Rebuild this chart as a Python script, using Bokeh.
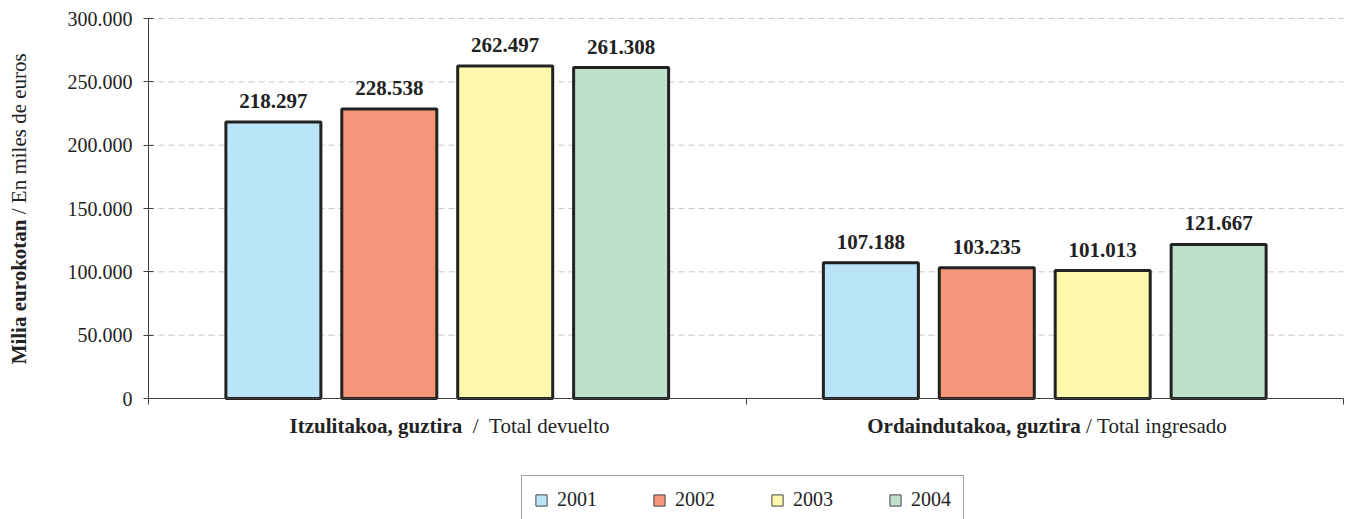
import math
from bokeh.plotting import figure
from bokeh.models import (ColumnDataSource, Label, LabelSet, Legend, LegendItem,
                          FixedTicker, Range1d)
from bokeh.embed import file_html
from bokeh.resources import INLINE

# ---- data ----
categories_eu = ["Itzulitakoa, guztira", "Ordaindutakoa, guztira"]
categories_es = ["\u00a0\u00a0/\u00a0\u00a0Total devuelto", "\u00a0/\u00a0Total ingresado"]
years = ["2001", "2002", "2003", "2004"]
v2001 = [218297, 107188]
v2002 = [228538, 103235]
v2003 = [262497, 101013]
v2004 = [261308, 121667]
series = [v2001, v2002, v2003, v2004]
colors = ["#bae5f8", "#f4967a", "#fff8ad", "#bfe1cb"]
y_ticks = [0, 50000, 100000, 150000, 200000, 250000, 300000]

FONT = "Liberation Serif"
TXT = "#222222"

# ---- layout (pixels) ----
W, H = 1345, 519
left_px, right_px = 148, 1343      # plot area horizontal extent
top_px, zero_px = 18, 398          # y=300000 and y=0 positions
y_max = y_ticks[-1]
ncat = len(categories_eu)
unit_x = (right_px - left_px) / ncat
unit_y = (zero_px - top_px) / y_max
x_start = -left_px / unit_x
x_end = ncat + (W - right_px) / unit_x
y_end = y_max + top_px / unit_y
y_start = -(H - zero_px) / unit_y


def fmt(v):
    return f"{v:,}".replace(",", ".")


p = figure(width=W, height=H, output_backend="svg", toolbar_location=None,
           x_range=Range1d(x_start, x_end), y_range=Range1d(y_start, y_end),
           min_border_left=0, min_border_right=0, min_border_top=0,
           min_border_bottom=0)
p.outline_line_color = None
p.background_fill_color = "white"
p.border_fill_color = "white"
p.xgrid.visible = False
p.ygrid.visible = False

# dashed horizontal grid lines across the plot area
gy = y_ticks[1:]
p.segment(x0=[0] * len(gy), x1=[ncat] * len(gy), y0=gy, y1=gy,
          line_color="#c8c8c8", line_dash="6 4", line_width=1)

step = 0.194
bw = 0.159
legend_items = []
for k, (yr, vals, col) in enumerate(zip(years, series, colors)):
    xs = [i + 0.5 + (k - 1.5) * step for i in range(len(vals))]
    src = ColumnDataSource(dict(x=xs, top=vals, lbl=[fmt(v) for v in vals]))
    p.vbar(x="x", top="top", width=bw, bottom=0, source=src,
           fill_color=col, line_color=TXT, line_width=3)
    # legend-only renderer (thin outline swatch), not drawn in the plot
    lr = p.vbar(x=[float("nan")], top=[float("nan")], width=bw, bottom=0,
                fill_color=col, line_color="#444444", line_width=1)
    legend_items.append(LegendItem(label=yr, renderers=[lr]))
    ls = LabelSet(x="x", y="top", text="lbl", source=src, text_align="center",
                  text_baseline="alphabetic", y_offset=14,
                  text_font=FONT, text_font_style="bold",
                  text_font_size="21px", text_color=TXT)
    p.add_layout(ls)

# y axis
p.yaxis.fixed_location = 0
p.yaxis.bounds = (0, y_max)
p.yaxis.ticker = FixedTicker(ticks=y_ticks)
p.yaxis.major_label_overrides = {t: fmt(t) for t in y_ticks}
p.yaxis.major_label_text_font = FONT
p.yaxis.major_label_text_font_size = "20px"
p.yaxis.major_label_text_color = TXT
p.yaxis.major_tick_in = 5
p.yaxis.major_tick_out = 5
p.yaxis.minor_tick_line_color = None
p.yaxis.major_label_standoff = 11
p.yaxis.axis_line_color = "#404040"
p.yaxis.major_tick_line_color = "#404040"

# x axis
p.xaxis.fixed_location = 0
p.xaxis.bounds = (0, ncat)
p.xaxis.ticker = FixedTicker(ticks=list(range(ncat + 1)))
p.xaxis.major_label_overrides = {i: "" for i in range(ncat + 1)}
p.xaxis.major_tick_in = 0
p.xaxis.major_tick_out = 6
p.xaxis.minor_tick_line_color = None
p.xaxis.axis_line_color = "#404040"
p.xaxis.major_tick_line_color = "#404040"

# category labels (bold Basque + regular Spanish)
offsets = [15, 36]
lab_y = -27 / unit_y
for i, (eu, es) in enumerate(zip(categories_eu, categories_es)):
    p.add_layout(Label(x=i + 0.5, y=lab_y, x_offset=offsets[i], text=eu,
                       text_align="right", text_baseline="middle",
                       text_font=FONT, text_font_style="bold",
                       text_font_size="21px", text_color=TXT))
    p.add_layout(Label(x=i + 0.5, y=lab_y, x_offset=offsets[i], text=es,
                       text_align="left", text_baseline="middle",
                       text_font=FONT, text_font_size="21px", text_color=TXT))

# y axis title
title_y = (zero_px - 219) / unit_y
p.add_layout(Label(x=0, y=title_y, x_offset=-130, text="Milia eurokotan",
                   angle=math.pi / 2, text_align="right", text_baseline="middle",
                   text_font=FONT, text_font_style="bold", text_font_size="21px",
                   text_color=TXT))
p.add_layout(Label(x=0, y=title_y, x_offset=-130,
                   text="\u00a0/\u00a0En miles de euros",
                   angle=math.pi / 2, text_align="left", text_baseline="middle",
                   text_font=FONT, text_font_size="21px", text_color=TXT))

legend = Legend(items=legend_items,
                orientation="horizontal", location=(521, -5),
                glyph_width=14, glyph_height=14, label_standoff=9,
                spacing=55, padding=12, margin=0,
                label_text_font=FONT, label_text_font_size="20px",
                label_text_color=TXT,
                border_line_color="#404040", border_line_width=1,
                background_fill_color="white")
p.add_layout(legend, "center")

open("out.html", "w").write(file_html(p, INLINE))
